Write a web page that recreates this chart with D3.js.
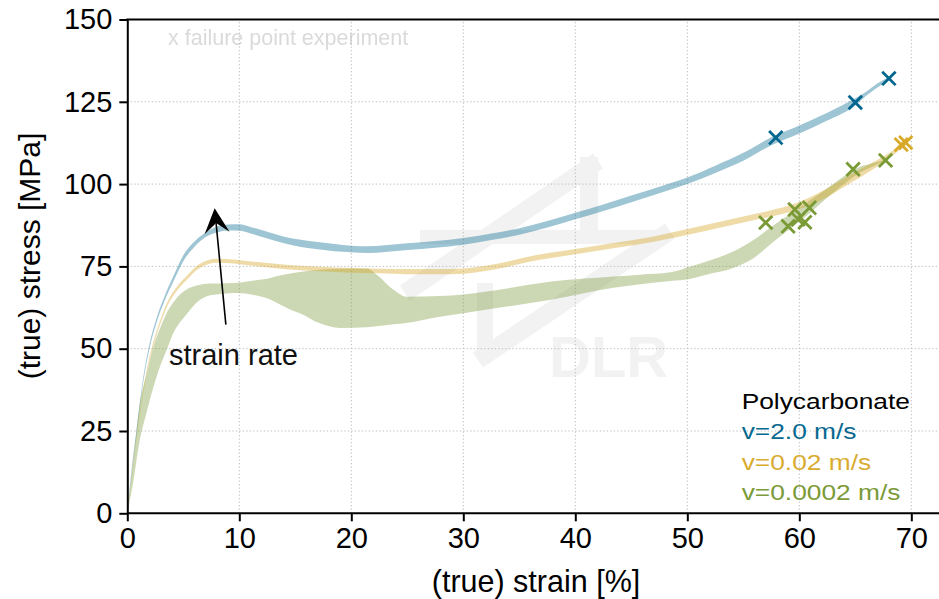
<!DOCTYPE html>
<html><head><meta charset="utf-8">
<script src="https://cdn.jsdelivr.net/npm/d3@7"></script>
<style>body{margin:0;background:#fff}svg{display:block}</style>
</head><body>
<svg id="c" width="939" height="599"></svg>
<script>
// ---------- data ----------
const xTicks = [0, 10, 20, 30, 40, 50, 60, 70];
const yTicks = [0, 25, 50, 75, 100, 125, 150];

// v = 2.0 m/s  (band: lower / upper)
const blueStrain = [0,0.3,0.8,1.4,2.0,2.6,3.3,4.1,5.0,6.0,7.0,8.0,9.0,10.0,11.0,12.5,14.0,15.5,17.0,18.5,20.0,21.5,23.0,25.0,27.5,30.0,32.5,35.0,37.5,40.0,42.5,45.0,47.5,50.0,52.5,55.0,57.5,60.0,62.5,65.0,66.0,67.0,68.0];
const blueLow    = [0,9.3,23.3,39.3,50.3,57.8,64.3,70.3,76.6,81.0,83.9,85.3,85.9,85.8,85.0,83.5,82.0,80.9,80.2,79.6,79.3,79.1,79.4,80.0,80.7,81.6,83.0,84.6,86.8,89.3,91.8,94.5,97.2,100.0,103.4,107.1,111.8,115.4,119.3,123.9,126.9,129.4,131.5];
const blueHigh   = [0.5,10.7,24.7,40.7,51.7,59.2,65.7,71.9,78.4,82.6,85.3,87.1,87.7,87.8,87.0,85.5,84.0,83.1,82.4,81.8,81.3,81.1,81.4,82.0,82.7,83.6,85.0,86.6,88.8,91.3,93.8,96.5,99.2,102.0,105.6,109.5,114.2,117.8,121.7,126.1,128.1,130.6,132.5];

// v = 0.02 m/s
const yellowStrain = [0,0.3,0.7,1.2,1.6,2.2,2.7,3.5,4.5,5.3,6.5,8.0,9.5,11,13,15.4,17.2,20,22.6,25,27.5,30,33,36,40,43.4,47,51,54,56,58,60,62,64.5,66,67.5,68.8,69.5];
const yellowLow    = [0,7.6,19.5,31.4,39.9,49.4,55.0,62.4,67.9,70.9,74.6,76.1,75.9,75.3,74.5,73.8,73.5,73.1,72.9,72.6,72.6,72.8,74.2,76.5,78.7,80.5,82.5,85.3,87.6,89.1,90.5,92.4,95.2,100.2,103.2,106.6,109.9,111.9];
const yellowHigh   = [0.4,8.4,20.5,32.6,41.1,50.6,56.2,63.6,69.1,72.1,75.8,77.3,77.1,76.5,75.9,75.2,74.9,74.5,74.3,74.2,74.2,74.4,75.8,78.1,80.3,82.1,84.1,87.1,89.4,90.9,92.5,94.6,97.8,102.8,105.6,108.4,111.1,112.7];

// v = 0.0002 m/s
const greenStrain = [0,0.5,1.1,1.7,2.3,2.9,3.5,4.1,4.7,5.3,6.2,7.4,8.9,9.8,11.3,12.7,13.3,14.8,15.4,17.2,19.0,21.4,22.3,23.8,24.9,27.9,30.0,33.9,37.7,43.4,45.8,48.5,50.2,51.7,54.1,55.9,57.7,59.2,60.7,62.2,63.6,65.1,66.6,67.6];
const greenLow    = [0,9,22,30.3,38,44.4,49.5,54.7,58,60.5,64,66.2,66.8,66.9,66.3,65,64,61.5,60.8,57.7,56.3,56.5,56.8,57.4,57.8,59.7,60.8,62.8,64.8,68.5,69.6,70.6,71.2,72.5,74.5,77.5,82.5,86.5,90.5,95,99,102.8,105.4,107];
const greenHigh   = [0.5,15,33,42,50.4,56,60.7,64,66.5,68,69.2,69.8,69.9,70,70.7,71.4,72,73,73.3,74,74.3,74.4,72.4,67.8,65.8,66,66.5,68.3,70.3,71.9,72.5,73.2,74.9,76.5,79.5,83,87.5,91,94.5,98,101.5,104.8,106.4,107.4];

// failure points [strain %, stress MPa]
const blueFail   = [[57.9,114.1],[65.0,124.8],[68.0,132.1]];
const yellowFail = [[69.1,112.0],[69.5,112.6]];
const greenFail  = [[57.0,88.3],[59.0,87.2],[59.6,92.3],[59.9,89.3],[60.5,88.4],[60.9,92.8],[64.8,104.5],[67.7,107.2]];

// annotation arrow: tail -> tip, in data units
const arrowTail = [8.8, 57.3];
const arrowTip  = [7.8, 92.7];

const legendTitle = "Polycarbonate";
const legendLabels = ["v=2.0 m/s", "v=0.02 m/s", "v=0.0002 m/s"];

// ---------- styling ----------
const C = {
  blue:   "#0d6e94", blueTxt: "#07698f",
  yellow: "#d5a522", yellowTxt: "#d9ab30",
  green:  "#809d40", greenTxt: "#7b9a38"
};
const FONT = "'Liberation Sans', Arial, Helvetica, sans-serif";

const svg = d3.select("#c");
const x = d3.scaleLinear().domain([0, 72.4]).range([127.3, 938.2]);
const y = d3.scaleLinear().domain([0, 150]).range([513.3, 19.5]);

// ---------- watermark (DLR logo) ----------
const wm = svg.append("g").attr("fill","none").attr("stroke","#f2f2f2").attr("stroke-linecap","butt").attr("stroke-linejoin","miter");
const wmLines = [
  [[405,293],[598,161],18],
  [[589,157],[589,240],18],
  [[420,237],[668,237],14],
  [[670,231],[478,360],18],
  [[485,283],[485,360],16]
];
wmLines.forEach(l => wm.append("line").attr("x1",l[0][0]).attr("y1",l[0][1]).attr("x2",l[1][0]).attr("y2",l[1][1]).attr("stroke-width",l[2]));
svg.append("text").attr("x",549).attr("y",377).attr("font-family",FONT).attr("font-weight","bold")
  .attr("font-size",58).attr("fill","#f2f2f2").text("DLR");

const defs = svg.append("defs");
defs.append("filter").attr("id","blur").append("feGaussianBlur").attr("stdDeviation",0.6);
svg.append("text").attr("x",168).attr("y",45).attr("font-family",FONT).attr("font-size",21.5)
  .attr("fill","#dadada").attr("filter","url(#blur)").text("x failure point experiment");

// ---------- grid ----------
const grid = svg.append("g").attr("stroke","#bdbdbd").attr("stroke-width",1).attr("stroke-dasharray","1.3,2.2");
xTicks.filter(t => t > 0).forEach(t => grid.append("line").attr("x1",x(t)).attr("x2",x(t)).attr("y1",y(0)).attr("y2",y(150)));
yTicks.filter(t => t > 0 && t < 150).forEach(t => grid.append("line").attr("x1",x(0)).attr("x2",938).attr("y1",y(t)).attr("y2",y(t)));

// ---------- bands ----------
function band(s, lo, hi, col) {
  const data = s.map((v,i) => ({s:v, lo:lo[i], hi:hi[i]}));
  const area = d3.area().x(d => x(d.s)).y0(d => y(d.lo)).y1(d => y(d.hi)).curve(d3.curveMonotoneX);
  svg.append("path").datum(data).attr("d", area).attr("fill", col).attr("fill-opacity", 0.4);
}
band(greenStrain, greenLow, greenHigh, C.green);
band(yellowStrain, yellowLow, yellowHigh, C.yellow);
band(blueStrain, blueLow, blueHigh, C.blue);

// ---------- failure markers ----------
function crosses(pts, col) {
  const r = 6.7;
  svg.append("g").selectAll("path").data(pts).join("path")
    .attr("transform", d => `translate(${x(d[0])},${y(d[1])})`)
    .attr("d", `M${-r},${-r}L${r},${r}M${-r},${r}L${r},${-r}`)
    .attr("stroke", col).attr("stroke-width", 2.8).attr("fill","none");
}
crosses(greenFail, "#7a9a36");
crosses(yellowFail, "#d9aa2a");
crosses(blueFail, "#03668e");

// ---------- arrow ----------
{
  const p0 = [x(arrowTail[0]), y(arrowTail[1])], p1 = [x(arrowTip[0]), y(arrowTip[1])];
  const dx = p1[0]-p0[0], dy = p1[1]-p0[1], len = Math.hypot(dx,dy);
  const ux = dx/len, uy = dy/len, px = -uy, py = ux;
  const L = 25, W = 12.5, N = 15;
  const notch = [p1[0]-N*ux, p1[1]-N*uy];
  svg.append("line").attr("x1",p0[0]).attr("y1",p0[1]).attr("x2",notch[0]).attr("y2",notch[1])
    .attr("stroke","#000").attr("stroke-width",1.6);
  const left = [p1[0]-L*ux+W*px, p1[1]-L*uy+W*py], right = [p1[0]-L*ux-W*px, p1[1]-L*uy-W*py];
  svg.append("path").attr("d",`M${p1}L${left}L${notch}L${right}Z`).attr("fill","#000");
}
svg.append("text").attr("x",169).attr("y",365).attr("font-family",FONT).attr("font-size",29)
  .attr("fill","#111").text("strain rate");

// ---------- axes ----------
const gx = svg.append("g").attr("transform",`translate(0,${y(0)})`)
  .call(d3.axisBottom(x).tickValues(xTicks).tickFormat(d3.format("d")).tickSize(8).tickSizeOuter(0).tickPadding(6));
const gy = svg.append("g").attr("transform",`translate(${x(0)},0)`)
  .call(d3.axisLeft(y).tickValues(yTicks).tickFormat(d3.format("d")).tickSize(8).tickSizeOuter(0).tickPadding(7));
[gx, gy].forEach(g => {
  g.select(".domain").attr("stroke","#000").attr("stroke-width",2);
  g.selectAll(".tick line").attr("stroke","#000").attr("stroke-width",2);
  g.selectAll(".tick text").attr("font-family",FONT).attr("font-size",29).attr("fill","#000");
});
gx.select(".domain").attr("d", `M${x(0)},0H939`);
// top spine
svg.append("line").attr("x1",x(0)-1).attr("x2",939).attr("y1",y(150)).attr("y2",y(150)).attr("stroke","#000").attr("stroke-width",2);

svg.append("text").attr("x",536).attr("y",592).attr("text-anchor","middle").attr("font-family",FONT)
  .attr("font-size",30.5).attr("fill","#000").text("(true) strain [%]");
svg.append("text").attr("transform","translate(40,256) rotate(-90)").attr("text-anchor","middle")
  .attr("font-family",FONT).attr("font-size",30).attr("fill","#000").text("(true) stress [MPa]");

// ---------- legend ----------
const leg = [[legendTitle,"#000"],[legendLabels[0],C.blueTxt],[legendLabels[1],C.yellowTxt],[legendLabels[2],C.greenTxt]];
leg.forEach((l,i) => {
  svg.append("text").attr("transform",`translate(741.7,${409.3+i*30.1}) scale(1.17,1)`)
    .attr("font-family",FONT).attr("font-size",22.5).attr("fill",l[1]).text(l[0]);
});
</script>
</body></html>
